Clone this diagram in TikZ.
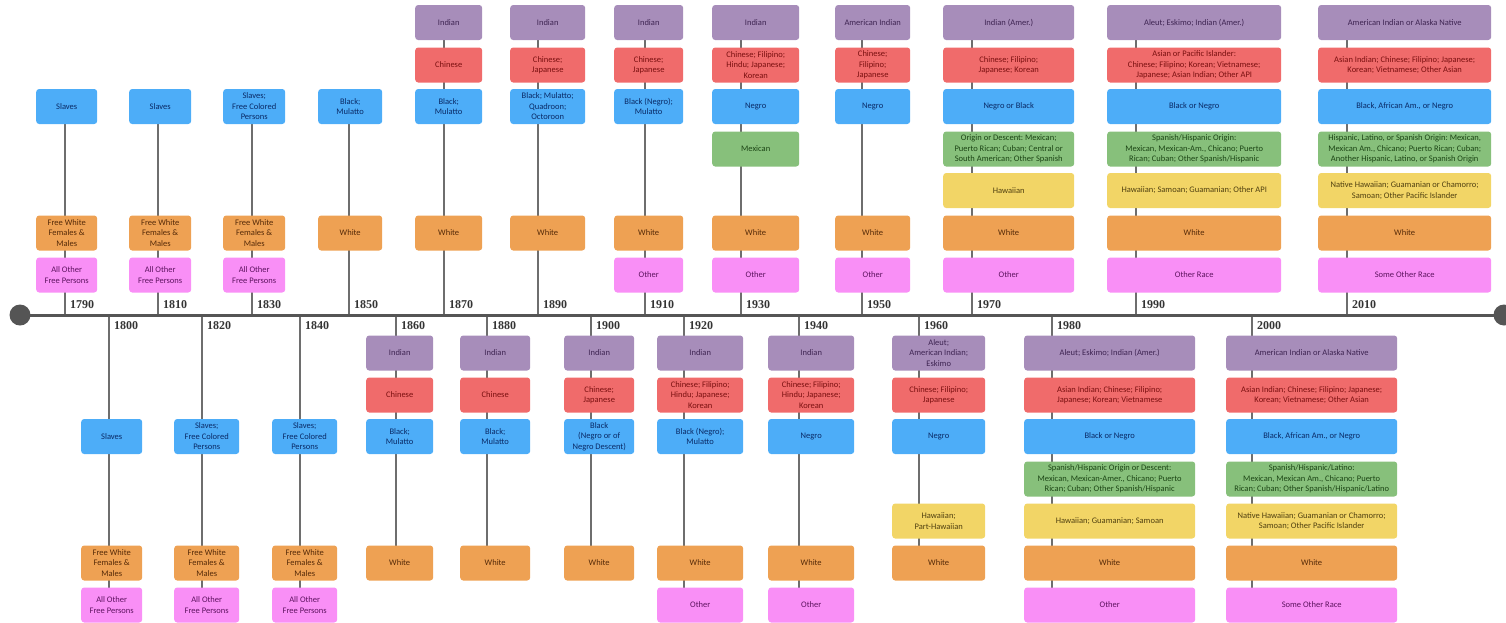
\documentclass[tikz,border=0pt]{standalone}
\usepackage{fontspec}
\setmainfont{Carlito}
\newfontfamily\yrfont{Liberation Serif}
\usetikzlibrary{backgrounds}
\definecolor{PF}{HTML}{A78DBA}\definecolor{PT}{HTML}{3E2452}
\definecolor{RF}{HTML}{F06B6B}\definecolor{RT}{HTML}{7A1010}
\definecolor{BF}{HTML}{4DADF8}\definecolor{BT}{HTML}{0A2A66}
\definecolor{GF}{HTML}{87C07B}\definecolor{GT}{HTML}{1C4515}
\definecolor{YF}{HTML}{F2D566}\definecolor{YT}{HTML}{504010}
\definecolor{OF}{HTML}{EEA153}\definecolor{OT}{HTML}{552A08}
\definecolor{KF}{HTML}{F98FF6}\definecolor{KT}{HTML}{5E1460}
\definecolor{axisc}{HTML}{555555}
\definecolor{linec}{HTML}{6E6E6E}
\frenchspacing
\tikzset{
  boxbase/.style={rectangle, rounded corners=3pt, minimum height=35pt, inner sep=1pt,
    align=center, anchor=west, font=\frenchspacing\fontsize{8.5}{10.5}\selectfont},
  bx/.style={boxbase, fill=#1F, text=#1T},
  vl/.style={draw=linec, line width=1.6pt},
  yrlab/.style={anchor=west, inner sep=0pt, font=\yrfont\bfseries\fontsize{12}{12}\selectfont, text=black!80}
}
\newcommand\bx[6]{\node[bx=#5, minimum width={(#3-#2)*1pt}] (#1) at (#2,#4) {#6};}
% top row centres
\def\tP{22.5}\def\tR{65}\def\tB{106.5}\def\tG{149}\def\tY{190.5}\def\tO{233}\def\tK{275}
% bottom row centres
\def\bP{353}\def\bR{395}\def\bB{436.5}\def\bG{479}\def\bY{521}\def\bO{563}\def\bK{605}
\newcommand\fw{Free White\\Females \&\\Males}
\newcommand\ao{All Other\\Free Persons}
\newcommand\sfc{Slaves;\\Free Colored\\Persons}
\begin{document}
\begin{tikzpicture}[x=1pt,y=-1pt]
\useasboundingbox (0,0) rectangle (1506,622);
% ---------------- top row ----------------
\bx{t1790B}{36}{97}{\tB}{B}{Slaves}
\bx{t1790O}{36}{97}{\tO}{O}{\fw}
\bx{t1790K}{36}{97}{\tK}{K}{\ao}
\bx{t1810B}{129}{191}{\tB}{B}{Slaves}
\bx{t1810O}{129}{191}{\tO}{O}{\fw}
\bx{t1810K}{129}{191}{\tK}{K}{\ao}
\bx{t1830B}{223}{285}{\tB}{B}{\sfc}
\bx{t1830O}{223}{285}{\tO}{O}{\fw}
\bx{t1830K}{223}{285}{\tK}{K}{\ao}
\bx{t1850B}{318}{382}{\tB}{B}{Black;\\Mulatto}
\bx{t1850O}{318}{382}{\tO}{O}{White}
\bx{t1870P}{415}{482}{\tP}{P}{Indian}
\bx{t1870R}{415}{482}{\tR}{R}{Chinese}
\bx{t1870B}{415}{482}{\tB}{B}{Black;\\Mulatto}
\bx{t1870O}{415}{482}{\tO}{O}{White}
\bx{t1890P}{510}{585}{\tP}{P}{Indian}
\bx{t1890R}{510}{585}{\tR}{R}{Chinese;\\Japanese}
\bx{t1890B}{510}{585}{\tB}{B}{Black; Mulatto;\\Quadroon;\\Octoroon}
\bx{t1890O}{510}{585}{\tO}{O}{White}
\bx{t1910P}{614}{683}{\tP}{P}{Indian}
\bx{t1910R}{614}{683}{\tR}{R}{Chinese;\\Japanese}
\bx{t1910B}{614}{683}{\tB}{B}{Black (Negro);\\Mulatto}
\bx{t1910O}{614}{683}{\tO}{O}{White}
\bx{t1910K}{614}{683}{\tK}{K}{Other}
\bx{t1930P}{712}{799}{\tP}{P}{Indian}
\bx{t1930R}{712}{799}{\tR}{R}{Chinese; Filipino;\\Hindu; Japanese;\\Korean}
\bx{t1930B}{712}{799}{\tB}{B}{Negro}
\bx{t1930G}{712}{799}{\tG}{G}{Mexican}
\bx{t1930O}{712}{799}{\tO}{O}{White}
\bx{t1930K}{712}{799}{\tK}{K}{Other}
\bx{t1950P}{835}{910}{\tP}{P}{American Indian}
\bx{t1950R}{835}{910}{\tR}{R}{Chinese;\\Filipino;\\Japanese}
\bx{t1950B}{835}{910}{\tB}{B}{Negro}
\bx{t1950O}{835}{910}{\tO}{O}{White}
\bx{t1950K}{835}{910}{\tK}{K}{Other}
\bx{t1970P}{943}{1074}{\tP}{P}{Indian (Amer.)}
\bx{t1970R}{943}{1074}{\tR}{R}{Chinese; Filipino;\\Japanese; Korean}
\bx{t1970B}{943}{1074}{\tB}{B}{Negro or Black}
\bx{t1970G}{943}{1074}{\tG}{G}{Origin or Descent: Mexican;\\Puerto Rican; Cuban; Central or\\South American; Other Spanish}
\bx{t1970Y}{943}{1074}{\tY}{Y}{Hawaiian}
\bx{t1970O}{943}{1074}{\tO}{O}{White}
\bx{t1970K}{943}{1074}{\tK}{K}{Other}
\bx{t1990P}{1107}{1281}{\tP}{P}{Aleut; Eskimo; Indian (Amer.)}
\bx{t1990R}{1107}{1281}{\tR}{R}{Asian or Pacific Islander:\\Chinese; Filipino; Korean; Vietnamese;\\Japanese; Asian Indian; Other API}
\bx{t1990B}{1107}{1281}{\tB}{B}{Black or Negro}
\bx{t1990G}{1107}{1281}{\tG}{G}{Spanish/Hispanic Origin:\\Mexican, Mexican-Am., Chicano; Puerto\\Rican; Cuban; Other Spanish/Hispanic}
\bx{t1990Y}{1107}{1281}{\tY}{Y}{Hawaiian; Samoan; Guamanian; Other API}
\bx{t1990O}{1107}{1281}{\tO}{O}{White}
\bx{t1990K}{1107}{1281}{\tK}{K}{Other Race}
\bx{t2010P}{1318}{1491}{\tP}{P}{American Indian or Alaska Native}
\bx{t2010R}{1318}{1491}{\tR}{R}{Asian Indian; Chinese; Filipino; Japanese;\\Korean; Vietnamese; Other Asian}
\bx{t2010B}{1318}{1491}{\tB}{B}{Black, African Am., or Negro}
\bx{t2010G}{1318}{1491}{\tG}{G}{Hispanic, Latino, or Spanish Origin: Mexican,\\Mexican Am., Chicano; Puerto Rican; Cuban;\\Another Hispanic, Latino, or Spanish Origin}
\bx{t2010Y}{1318}{1491}{\tY}{Y}{Native Hawaiian; Guamanian or Chamorro;\\Samoan; Other Pacific Islander}
\bx{t2010O}{1318}{1491}{\tO}{O}{White}
\bx{t2010K}{1318}{1491}{\tK}{K}{Some Other Race}
% ---------------- bottom row ----------------
\bx{b1800B}{81}{142}{\bB}{B}{Slaves}
\bx{b1800O}{81}{142}{\bO}{O}{\fw}
\bx{b1800K}{81}{142}{\bK}{K}{\ao}
\bx{b1820B}{174}{239}{\bB}{B}{\sfc}
\bx{b1820O}{174}{239}{\bO}{O}{\fw}
\bx{b1820K}{174}{239}{\bK}{K}{\ao}
\bx{b1840B}{272}{337}{\bB}{B}{\sfc}
\bx{b1840O}{272}{337}{\bO}{O}{\fw}
\bx{b1840K}{272}{337}{\bK}{K}{\ao}
\bx{b1860P}{366}{433}{\bP}{P}{Indian}
\bx{b1860R}{366}{433}{\bR}{R}{Chinese}
\bx{b1860B}{366}{433}{\bB}{B}{Black;\\Mulatto}
\bx{b1860O}{366}{433}{\bO}{O}{White}
\bx{b1880P}{460}{530}{\bP}{P}{Indian}
\bx{b1880R}{460}{530}{\bR}{R}{Chinese}
\bx{b1880B}{460}{530}{\bB}{B}{Black;\\Mulatto}
\bx{b1880O}{460}{530}{\bO}{O}{White}
\bx{b1900P}{564}{634}{\bP}{P}{Indian}
\bx{b1900R}{564}{634}{\bR}{R}{Chinese;\\Japanese}
\bx{b1900B}{564}{634}{\bB}{B}{Black\\(Negro or of\\Negro Descent)}
\bx{b1900O}{564}{634}{\bO}{O}{White}
\bx{b1920P}{657}{743}{\bP}{P}{Indian}
\bx{b1920R}{657}{743}{\bR}{R}{Chinese; Filipino;\\Hindu; Japanese;\\Korean}
\bx{b1920B}{657}{743}{\bB}{B}{Black (Negro);\\Mulatto}
\bx{b1920O}{657}{743}{\bO}{O}{White}
\bx{b1920K}{657}{743}{\bK}{K}{Other}
\bx{b1940P}{768}{854}{\bP}{P}{Indian}
\bx{b1940R}{768}{854}{\bR}{R}{Chinese; Filipino;\\Hindu; Japanese;\\Korean}
\bx{b1940B}{768}{854}{\bB}{B}{Negro}
\bx{b1940O}{768}{854}{\bO}{O}{White}
\bx{b1940K}{768}{854}{\bK}{K}{Other}
\bx{b1960P}{892}{985}{\bP}{P}{Aleut;\\American Indian;\\Eskimo}
\bx{b1960R}{892}{985}{\bR}{R}{Chinese; Filipino;\\Japanese}
\bx{b1960B}{892}{985}{\bB}{B}{Negro}
\bx{b1960Y}{892}{985}{\bY}{Y}{Hawaiian;\\Part-Hawaiian}
\bx{b1960O}{892}{985}{\bO}{O}{White}
\bx{b1980P}{1024}{1195}{\bP}{P}{Aleut; Eskimo; Indian (Amer.)}
\bx{b1980R}{1024}{1195}{\bR}{R}{Asian Indian; Chinese; Filipino;\\Japanese; Korean; Vietnamese}
\bx{b1980B}{1024}{1195}{\bB}{B}{Black or Negro}
\bx{b1980G}{1024}{1195}{\bG}{G}{Spanish/Hispanic Origin or Descent:\\Mexican, Mexican-Amer., Chicano; Puerto\\Rican; Cuban; Other Spanish/Hispanic}
\bx{b1980Y}{1024}{1195}{\bY}{Y}{Hawaiian; Guamanian; Samoan}
\bx{b1980O}{1024}{1195}{\bO}{O}{White}
\bx{b1980K}{1024}{1195}{\bK}{K}{Other}
\bx{b2000P}{1226}{1397}{\bP}{P}{American Indian or Alaska Native}
\bx{b2000R}{1226}{1397}{\bR}{R}{Asian Indian; Chinese; Filipino; Japanese;\\Korean; Vietnamese; Other Asian}
\bx{b2000B}{1226}{1397}{\bB}{B}{Black, African Am., or Negro}
\bx{b2000G}{1226}{1397}{\bG}{G}{Spanish/Hispanic/Latino:\\Mexican, Mexican Am., Chicano; Puerto\\Rican; Cuban; Other Spanish/Hispanic/Latino}
\bx{b2000Y}{1226}{1397}{\bY}{Y}{Native Hawaiian; Guamanian or Chamorro;\\Samoan; Other Pacific Islander}
\bx{b2000O}{1226}{1397}{\bO}{O}{White}
\bx{b2000K}{1226}{1397}{\bK}{K}{Some Other Race}
% ---------------- axis ----------------
\node[circle, fill=axisc, minimum size=21pt, inner sep=0pt] (startdot) at (20,315) {};
\node[circle, fill=axisc, minimum size=21pt, inner sep=0pt] (enddot) at (1504,315) {};
% axis points of the years
\foreach \yr/\xx in {1790/65,1810/158,1830/252,1850/349,1870/444,1890/538,1910/645,1930/741,1950/862,1970/972,1990/1136,2010/1347}{
  \coordinate (a\yr) at (\xx,315);
  \node[yrlab] (l\yr) at (\xx+5,305) {\yr};
}
\foreach \yr/\xx in {1800/109,1820/202,1840/300,1860/396,1880/487,1900/591,1920/684,1940/799,1960/919,1980/1052,2000/1252}{
  \coordinate (a\yr) at (\xx,315);
  \node[yrlab] (l\yr) at (\xx+5,326) {\yr};
}
\begin{scope}[on background layer]
  \foreach \yr/\bxn in {1790/t1790B,1810/t1810B,1830/t1830B,1850/t1850B,1870/t1870P,1890/t1890P,1910/t1910P,1930/t1930P,1950/t1950P,1970/t1970P,1990/t1990P,2010/t2010P,
    1800/b1800K,1820/b1820K,1840/b1840K,1860/b1860O,1880/b1880O,1900/b1900O,1920/b1920K,1940/b1940K,1960/b1960O,1980/b1980K,2000/b2000K}{
    \draw[vl] (a\yr) -- (a\yr |- \bxn.center);
  }
  \draw[draw=axisc, line width=3pt] (startdot.center) -- (enddot.center);
\end{scope}
\end{tikzpicture}
\end{document}
